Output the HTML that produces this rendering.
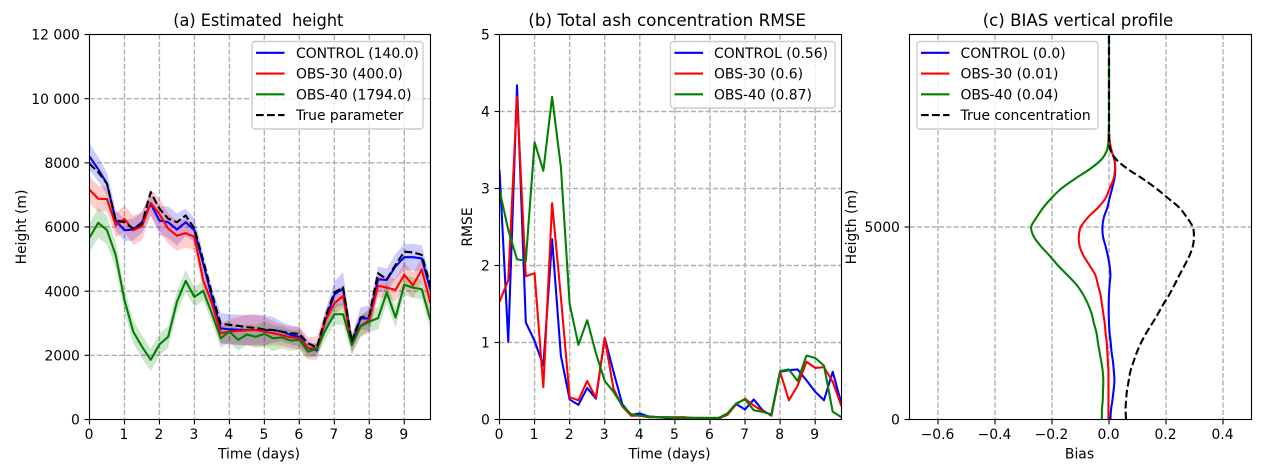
<!DOCTYPE html>
<html lang="en">
<head>
<meta charset="utf-8">
<title>Ash plume assimilation charts</title>
<style>
html,body{margin:0;padding:0;background:#fff;}
svg{display:block;}
text{font-family:"DejaVu Sans","Liberation Sans",sans-serif;fill:#000;white-space:pre;}
</style>
</head>
<body>
<svg id="figure" xmlns="http://www.w3.org/2000/svg" width="1267" height="476" viewBox="0 0 1267 476"></svg>
<script>
const days = [0,0.25,0.5,0.75,1,1.25,1.5,1.75,2,2.25,2.5,2.75,3,3.25,3.5,3.75,4,4.25,4.5,4.75,5,5.25,5.5,5.75,6,6.25,6.5,6.75,7,7.25,7.5,7.75,8,8.25,8.5,8.75,9,9.25,9.5,9.75];
const dayTicks = [0,1,2,3,4,5,6,7,8,9];

const heightControl = [8200,7800,7350,6200,5900,5920,6150,6720,6200,6150,5920,6150,5900,4860,3820,2840,2810,2800,2790,2790,2790,2790,2740,2635,2580,2220,2150,3100,3890,4090,2370,3150,3150,4370,4350,4770,5060,5060,5020,4040];
const heightObs30 = [7160,6880,6870,6050,6250,5900,6020,6750,6400,5950,5730,5810,5690,4340,3620,2690,2740,2760,2780,2790,2740,2690,2630,2560,2530,2220,2220,3100,3620,3850,2350,2920,3100,4170,4110,4040,4510,4180,4670,3620];
const heightObs40 = [5670,6130,5900,5120,3720,2740,2270,1860,2340,2580,3670,4320,3820,4010,3300,2530,2740,2480,2650,2580,2670,2530,2560,2460,2480,2110,2200,2790,3280,3280,2320,2900,3050,3160,3960,3180,4200,4110,4060,3100];
const heightTrue = [7970,7710,7350,6210,6150,5950,6100,7090,6570,6260,6150,6360,5950,4960,3930,2990,2950,2920,2880,2850,2810,2790,2740,2690,2670,2370,2250,3200,3960,4120,2430,3180,3240,4560,4370,4820,5230,5210,5130,4150];
const spreadControl = [420,380,350,330,340,340,330,350,450,490,500,420,380,320,320,480,470,470,470,460,470,400,300,300,300,220,200,300,400,500,250,350,400,400,350,400,400,420,400,350];
const spreadObs30 = [420,400,380,380,400,460,430,400,500,480,470,450,400,320,300,300,380,440,480,500,450,380,330,330,360,350,360,320,350,350,320,320,350,360,340,350,400,400,380,350];
const spreadObs40 = [440,470,450,400,380,360,360,350,340,340,340,340,320,300,280,300,350,330,330,350,400,400,350,320,300,200,200,300,320,330,280,330,340,350,340,320,320,320,310,300];
const heightTicks = [0,2000,4000,6000,8000,10000,12000];
const heightTickLabels = ["0","2000","4000","6000","8000","10 000","12 000"];

const rmseControl = [3.24,1.01,4.34,1.26,1.02,0.70,2.34,0.83,0.26,0.19,0.41,0.27,1.06,0.62,0.2,0.06,0.08,0.04,0.03,0.02,0.02,0.02,0.02,0.02,0.01,0.01,0.07,0.2,0.13,0.26,0.12,0.05,0.62,0.64,0.65,0.51,0.36,0.25,0.62,0.2];
const rmseObs30 = [1.53,1.81,4.19,1.86,1.90,0.42,2.81,1.59,0.29,0.25,0.50,0.28,1.06,0.40,0.17,0.05,0.05,0.03,0.03,0.03,0.03,0.03,0.02,0.02,0.02,0.02,0.06,0.2,0.27,0.18,0.11,0.06,0.62,0.25,0.44,0.75,0.67,0.68,0.49,0.17];
const rmseObs40 = [2.98,2.46,2.08,2.06,3.6,3.23,4.19,3.28,1.5,0.97,1.29,0.86,0.5,0.36,0.18,0.07,0.05,0.04,0.03,0.03,0.02,0.02,0.02,0.02,0.02,0.02,0.08,0.21,0.26,0.12,0.1,0.065,0.63,0.65,0.5,0.83,0.8,0.7,0.1,0.03];
const rmseTicks = [0,1,2,3,4,5];

const levels = [0,250,500,750,1000,1250,1500,1750,2000,2250,2500,2750,3000,3250,3500,3750,4000,4250,4500,4750,5000,5250,5500,5750,6000,6250,6500,6750,7000,7250,7500,7750,10000];
const biasControl = [0.005,0.007,0.012,0.016,0.019,0.017,0.014,0.009,0.006,0.002,0,-0.001,-0.001,0,0.002,0.005,0.002,-0.004,-0.012,-0.021,-0.023,-0.018,-0.006,0.002,0.011,0.019,0.022,0.019,0.008,0.002,0,0,0];
const biasObs30 = [-0.002,-0.002,-0.002,-0.002,-0.002,-0.002,-0.004,-0.006,-0.008,-0.012,-0.015,-0.020,-0.025,-0.030,-0.039,-0.048,-0.068,-0.089,-0.103,-0.106,-0.099,-0.074,-0.039,-0.012,0.002,0.016,0.021,0.019,0.008,0.002,0,0,0];
const biasObs40 = [-0.025,-0.025,-0.022,-0.021,-0.020,-0.022,-0.027,-0.033,-0.039,-0.044,-0.053,-0.061,-0.074,-0.091,-0.114,-0.146,-0.179,-0.208,-0.239,-0.264,-0.273,-0.254,-0.231,-0.202,-0.167,-0.120,-0.068,-0.027,-0.007,-0.002,-0.001,0,0];
const trueConcentration = [0.060,0.058,0.060,0.063,0.069,0.075,0.086,0.098,0.113,0.131,0.152,0.172,0.191,0.212,0.230,0.247,0.265,0.282,0.294,0.298,0.294,0.273,0.247,0.207,0.166,0.119,0.067,0.026,0.005,0,0,0,0];
const biasTicks = [-0.6,-0.4,-0.2,0,0.2,0.4];
const biasTickLabels = ["\u22120.6","\u22120.4","\u22120.2","0.0","0.2","0.4"];
const levelTicks = [0,5000];

const legendA = ["CONTROL (140.0)","OBS-30 (400.0)","OBS-40 (1794.0)","True parameter"];
const legendB = ["CONTROL (0.56)","OBS-30 (0.6)","OBS-40 (0.87)"];
const legendC = ["CONTROL (0.0)","OBS-30 (0.01)","OBS-40 (0.04)","True concentration"];

const NS = "http://www.w3.org/2000/svg";
const root = document.getElementById("figure");
const BLUE = "#0000ff", RED = "#ff0000", GREEN = "#008000", BLACK = "#000000";
const TOP = 34.5, BOTTOM = 419.5;

function make(tag, attrs, parent) {
  const node = document.createElementNS(NS, tag);
  for (const key in attrs) node.setAttribute(key, attrs[key]);
  parent.appendChild(node);
  return node;
}
function linear(d0, d1, r0, r1) {
  return function (v) { return r0 + (v - d0) * (r1 - r0) / (d1 - d0); };
}
function pointList(xs, ys, sx, sy) {
  return xs.map(function (x, i) { return sx(x).toFixed(2) + "," + sy(ys[i]).toFixed(2); }).join(" ");
}
function drawAxes(g, cfg) {
  const grid = make("g", {}, g);
  
  
  cfg.xGrid.forEach(function (v) {
    make("line", {x1: cfg.sx(v), x2: cfg.sx(v), y1: TOP, y2: BOTTOM, stroke: "#b0b0b0", "stroke-width": 1.39, "stroke-dasharray": "5.14,2.22"}, grid);
  });
  cfg.yGrid.forEach(function (v) {
    make("line", {x1: cfg.x0, x2: cfg.x1, y1: cfg.sy(v), y2: cfg.sy(v), stroke: "#b0b0b0", "stroke-width": 1.39, "stroke-dasharray": "5.14,2.22"}, grid);
  });
}
function drawFrame(g, cfg) {
  const frame = make("rect", {x: cfg.x0, y: TOP, width: cfg.x1 - cfg.x0, height: BOTTOM - TOP, fill: "none", stroke: "#000", "stroke-width": 1.11}, g);
  
  
  const xAxis = make("g", {}, g);
  
  
  cfg.xTicks.forEach(function (v, i) {
    const x = cfg.sx(v);
    make("line", {x1: x, x2: x, y1: BOTTOM, y2: BOTTOM + 4.9, stroke: "#000", "stroke-width": 1.11}, xAxis);
    const t = make("text", {x: x - 0.5, y: 439, "font-size": 13.9, "text-anchor": "middle"}, xAxis);
    t.textContent = cfg.xLabels[i];
  });
  const xTitle = make("text", {x: (cfg.x0 + cfg.x1) / 2 - 1, y: 458.5, "font-size": 13.9, "text-anchor": "middle"}, g);
  
  
  xTitle.textContent = cfg.xTitle;
  const yAxis = make("g", {}, g);
  
  
  cfg.yTicks.forEach(function (v, i) {
    const y = cfg.sy(v);
    make("line", {x1: cfg.x0, x2: cfg.x0 - 4.9, y1: y, y2: y, stroke: "#000", "stroke-width": 1.11}, yAxis);
    const t = make("text", {x: cfg.x0 - 9.6, y: y + 5.1, "font-size": 13.9, "text-anchor": "end"}, yAxis);
    t.textContent = cfg.yLabels[i];
  });
  const yTitle = make("text", {x: cfg.yTitleX, y: 227, "font-size": 13.9, "text-anchor": "middle", transform: "rotate(-90 " + cfg.yTitleX + " 227)"}, g);
  
  
  yTitle.textContent = cfg.yTitle;
  const title = make("text", {x: cfg.titleX, y: 26.2, "font-size": 16.67, textLength: cfg.titleW, lengthAdjust: "spacingAndGlyphs"}, g);
  
  
  title.textContent = cfg.title;
}
function drawLegend(g, cfg) {
  const colors = [BLUE, RED, GREEN, BLACK];
  const box = make("g", {}, g);
  
  
  make("rect", {x: cfg.lx, y: 41.5, width: cfg.lw, height: cfg.labels.length === 4 ? 87.5 : 66.5, rx: 3, ry: 3, fill: "#fff", "fill-opacity": 0.8, stroke: "#cccccc", "stroke-width": 1.39}, box);
  cfg.labels.forEach(function (label, i) {
    const row = make("g", {}, box);
    
    
    const y = 52.8 + i * 20.75;
    const attrs = {x1: cfg.lx + 4, x2: cfg.lx + 32.5, y1: y, y2: y, stroke: colors[i], "stroke-width": 2.08};
    if (i === 3) attrs["stroke-dasharray"] = "7.7,3.33";
    make("line", attrs, row);
    const t = make("text", {x: cfg.lx + cfg.textOffset, y: y + 5.1, "font-size": 13.9}, row);
    t.textContent = label;
  });
}
function panelGroup(cfg) {
  const g = make("g", {}, root);
  
  
  const clip = make("clipPath", {id: cfg.id + "-clip"}, g);
  make("rect", {x: cfg.x0, y: TOP, width: cfg.x1 - cfg.x0, height: BOTTOM - TOP}, clip);
  drawAxes(g, cfg);
  const plot = make("g", {"clip-path": "url(#" + cfg.id + "-clip)"}, g);
  
  
  cfg.plot = plot;
  return g;
}
function addLine(cfg, xs, ys, color, name, dashed) {
  const attrs = {points: pointList(xs, ys, cfg.sx, cfg.sy), fill: "none", stroke: color, "stroke-width": 2.08, "stroke-linejoin": "round"};
  if (dashed) attrs["stroke-dasharray"] = "7.7,3.33";
  const line = make("polyline", attrs, cfg.plot);
  
  
}
function addSmoothLine(cfg, xs, ys, color, name, dashed) {
  const px = xs.map(cfg.sx);
  const py = ys.map(cfg.sy);
  let d = "M" + px[0].toFixed(2) + "," + py[0].toFixed(2);
  for (let i = 0; i < px.length - 1; i++) {
    const a = Math.max(i - 1, 0), b = Math.min(i + 2, px.length - 1);
    const k = (i === px.length - 2) ? 0 : 1 / 6;
    const c1x = px[i] + (px[i + 1] - px[a]) * k, c1y = py[i] + (py[i + 1] - py[a]) * k;
    const c2x = px[i + 1] - (px[b] - px[i]) * k, c2y = py[i + 1] - (py[b] - py[i]) * k;
    d += " C" + c1x.toFixed(2) + "," + c1y.toFixed(2) + " " + c2x.toFixed(2) + "," + c2y.toFixed(2) + " " + px[i + 1].toFixed(2) + "," + py[i + 1].toFixed(2);
  }
  const attrs = {d: d, fill: "none", stroke: color, "stroke-width": 2.08, "stroke-linejoin": "round"};
  if (dashed) attrs["stroke-dasharray"] = "7.7,3.33";
  const line = make("path", attrs, cfg.plot);
  
  
}
function addBand(cfg, xs, ys, spread, color, name) {
  const upper = ys.map(function (v, i) { return v + spread[i]; });
  const lower = ys.map(function (v, i) { return v - spread[i]; });
  const pts = pointList(xs, upper, cfg.sx, cfg.sy) + " " + pointList(xs.slice().reverse(), lower.slice().reverse(), cfg.sx, cfg.sy);
  const band = make("polygon", {points: pts, fill: color, "fill-opacity": 0.2, stroke: "none"}, cfg.plot);
  
  
}

/* Panel (a) */
const cfgA = {
  id: "panel-a", x0: 89.5, x1: 430.5,
  sx: linear(0, 9.75, 89.5, 430.5), sy: linear(0, 12000, BOTTOM, TOP),
  xGrid: dayTicks.slice(1), yGrid: heightTicks.slice(1, 6),
  xTicks: dayTicks, xLabels: dayTicks.map(String), yTicks: heightTicks, yLabels: heightTickLabels,
  xTitle: "Time (days)", yTitle: "Height (m)", yTitleX: 26,
  title: "(a) Estimated  height", titleX: 173.3, titleW: 170,
  labels: legendA, lx: 252, lw: 171, textOffset: 44
};
const gA = panelGroup(cfgA);
addBand(cfgA, days, heightControl, spreadControl, BLUE, "control-height-band");
addBand(cfgA, days, heightObs30, spreadObs30, RED, "obs-30-height-band");
addBand(cfgA, days, heightObs40, spreadObs40, GREEN, "obs-40-height-band");
addLine(cfgA, days, heightControl, BLUE, "control-height-line");
addLine(cfgA, days, heightObs30, RED, "obs-30-height-line");
addLine(cfgA, days, heightObs40, GREEN, "obs-40-height-line");
addLine(cfgA, days, heightTrue, BLACK, "true-parameter-line", true);
drawFrame(gA, cfgA);
drawLegend(gA, cfgA);

/* Panel (b) */
const cfgB = {
  id: "panel-b", x0: 499.5, x1: 841.5,
  sx: linear(0, 9.75, 499.5, 841.5), sy: linear(0, 5, BOTTOM, TOP),
  xGrid: dayTicks.slice(1), yGrid: rmseTicks.slice(1, 5),
  xTicks: dayTicks, xLabels: dayTicks.map(String), yTicks: rmseTicks, yLabels: rmseTicks.map(String),
  xTitle: "Time (days)", yTitle: "RMSE", yTitleX: 472,
  title: "(b) Total ash concentration RMSE", titleX: 528.3, titleW: 277.7,
  labels: legendB, lx: 670.5, lw: 164.5, textOffset: 43.5
};
const gB = panelGroup(cfgB);
addLine(cfgB, days, rmseControl, BLUE, "control-rmse-line");
addLine(cfgB, days, rmseObs30, RED, "obs-30-rmse-line");
addLine(cfgB, days, rmseObs40, GREEN, "obs-40-rmse-line");
drawFrame(gB, cfgB);
drawLegend(gB, cfgB);

/* Panel (c) */
const cfgC = {
  id: "panel-c", x0: 909.5, x1: 1251.5,
  sx: linear(-0.7, 0.5, 909.5, 1251.5), sy: linear(0, 10000, BOTTOM, TOP),
  xGrid: biasTicks, yGrid: [5000],
  xTicks: biasTicks, xLabels: biasTickLabels, yTicks: levelTicks, yLabels: levelTicks.map(String),
  xTitle: "Bias", yTitle: "Heigth (m)", yTitleX: 856,
  title: "(c) BIAS vertical profile", titleX: 982.7, titleW: 190.6,
  labels: legendC, lx: 917, lw: 181, textOffset: 43.5
};
const gC = panelGroup(cfgC);
addSmoothLine(cfgC, biasControl, levels, BLUE, "control-bias-line");
addSmoothLine(cfgC, biasObs30, levels, RED, "obs-30-bias-line");
addSmoothLine(cfgC, biasObs40, levels, GREEN, "obs-40-bias-line");
addSmoothLine(cfgC, trueConcentration, levels, BLACK, "true-concentration-line", true);
drawFrame(gC, cfgC);
drawLegend(gC, cfgC);
</script>
</body>
</html>
